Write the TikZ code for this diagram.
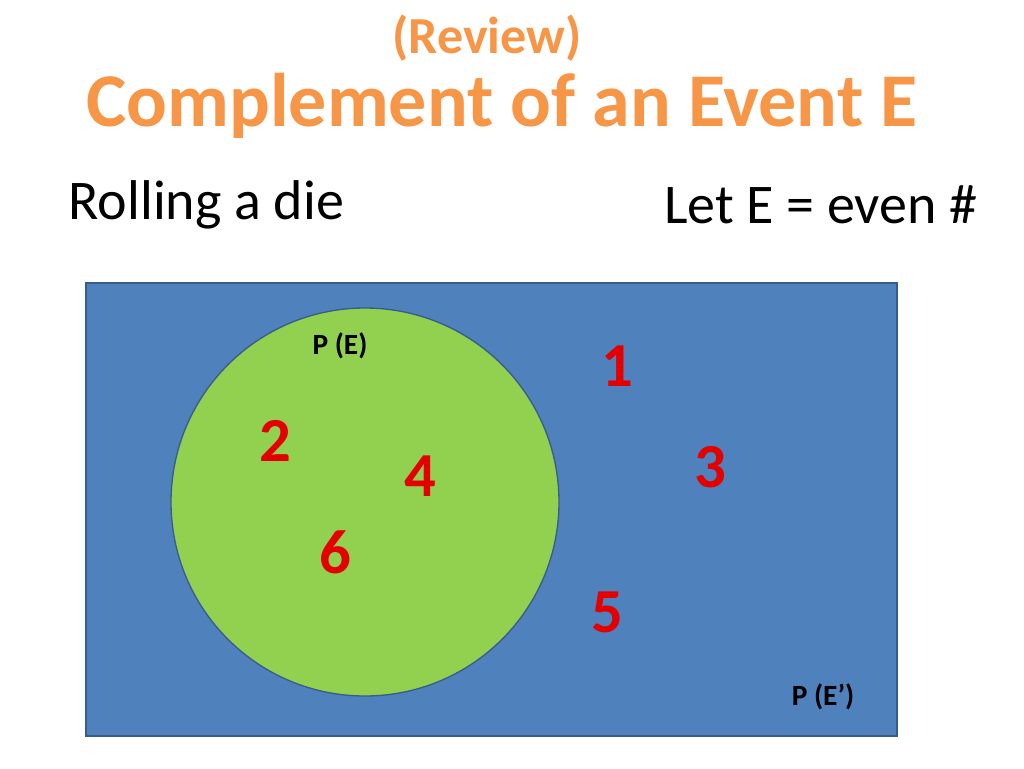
\documentclass[tikz,border=0pt]{standalone}
\usepackage{fontspec}
\setmainfont{Carlito}
\begin{document}
\begin{tikzpicture}[x=0.75pt,y=-0.75pt,
  num/.style={text=red!90!black,font=\bfseries\fontsize{47}{54}\selectfont},
  lab/.style={font=\bfseries\fontsize{22}{26}\selectfont}]
\useasboundingbox (0,0) rectangle (1024,768);
\definecolor{bx}{HTML}{4F81BD}\definecolor{bd}{HTML}{385D8A}\definecolor{gr}{HTML}{92D050}\definecolor{ttlc}{HTML}{F79646}
\node[text=ttlc,font=\bfseries\fontsize{39}{44}\selectfont] (rev) at (487,38) {(Review)};
\node[text=ttlc,font=\bfseries\fontsize{57}{64}\selectfont] (ttl) at (502,106) {Complement of an Event E};
\node[anchor=west,font=\fontsize{42}{48}\selectfont] (roll) at (64,205) {Rolling a die};
\node[anchor=east,font=\fontsize{42}{48}\selectfont] (let) at (982,205) {Let E = even \#};
\node[draw=bd,line width=1.5pt,fill=bx,minimum width=811*0.75pt,minimum height=453*0.75pt,anchor=north west] (box) at (85,282) {};
\node[draw=bd,line width=1pt,fill=gr,circle,minimum size=388*0.75pt] (E) at (365,502) {};
\node[lab] (pe) at (340,346) {P (E)};
\node[lab] (pec) at (823,697) {P (E’)};
\node[num] (n1) at (617,366) {1};
\node[num] (n2) at (275,441) {2};
\node[num] (n3) at (710,467) {3};
\node[num] (n4) at (420,476) {4};
\node[num] (n5) at (607,612) {5};
\node[num] (n6) at (335,552) {6};
\end{tikzpicture}
\end{document}
